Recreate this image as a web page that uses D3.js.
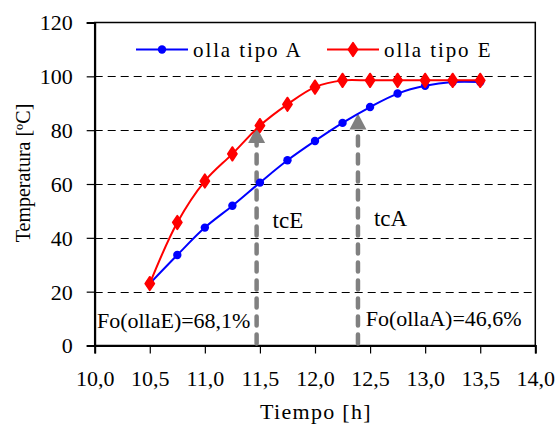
<!DOCTYPE html>
<html>
<head>
<meta charset="utf-8">
<script src="https://cdn.jsdelivr.net/npm/d3@7"></script>
<style>
  html, body { margin: 0; padding: 0; background: #fff; }
  svg { display: block; font-family: "Liberation Serif", "Times New Roman", serif; }
</style>
</head>
<body>
<svg id="chart" width="560" height="428"></svg>
<script>
// ---- data ----
const times = [10.5, 10.75, 11.0, 11.25, 11.5, 11.75, 12.0, 12.25, 12.5, 12.75, 13.0, 13.25, 13.5];
const tempA = [23, 33.6, 43.8, 51.9, 60.5, 68.8, 76.0, 82.7, 88.6, 93.6, 96.5, 97.9, 97.9];
const tempE = [23, 45.7, 61.1, 71.2, 81.7, 89.6, 96.0, 98.5, 98.5, 98.5, 98.5, 98.5, 98.5];
const seriesNames = ["olla tipo A", "olla tipo E"];
const xTicks = [10.0, 10.5, 11.0, 11.5, 12.0, 12.5, 13.0, 13.5, 14.0];
const yTicks = [0, 20, 40, 60, 80, 100, 120];
const gridValues = [20, 40, 60, 80, 100];
const markerTimes = [11.47, 12.39];
const markerTips = [81.2, 86.2];
const markerLabels = ["tcE", "tcA"];
const foLabels = ["Fo(ollaE)=68,1%", "Fo(ollaA)=46,6%"];
const foTimes = [10.02, 12.46];
const foTemps = [6.6, 7.3];
const labelTemps = [43.5, 44.5];

const svg = d3.select("#chart");
const x = d3.scaleLinear().domain([10, 14]).range([94.7, 535.3]);
const y = d3.scaleLinear().domain([0, 120]).range([345.5, 22.5]);

// gridlines
svg.append("g").selectAll("line").data(gridValues).join("line")
  .attr("x1", x(10)).attr("x2", x(14))
  .attr("y1", d => Math.round(y(d)) + 0.5).attr("y2", d => Math.round(y(d)) + 0.5)
  .attr("stroke", "#000").attr("stroke-width", 1)
  .attr("stroke-dasharray", "8,5");

// frame
svg.append("rect")
  .attr("x", x(10)).attr("y", y(120))
  .attr("width", x(14) - x(10)).attr("height", y(0) - y(120))
  .attr("fill", "none").attr("stroke", "#000").attr("stroke-width", 1.5);

// axes
const fmtX = d => d3.format(".1f")(d).replace(".", ",");
const xAxis = svg.append("g").attr("transform", `translate(0,${y(0)})`)
  .call(d3.axisBottom(x).tickValues(xTicks).tickFormat(fmtX).tickSize(8).tickPadding(17));
const yAxis = svg.append("g").attr("transform", `translate(${x(10)},0)`)
  .call(d3.axisLeft(y).tickValues(yTicks).tickFormat(d3.format("d")).tickSize(8).tickPadding(14));
[xAxis, yAxis].forEach(a => {
  a.attr("font-family", null).attr("font-size", null);
  a.select(".domain").attr("stroke", "#000").attr("stroke-width", 2);
  a.selectAll(".tick line").attr("stroke", "#000").attr("stroke-width", 1.2);
  a.selectAll(".tick text").attr("fill", "#000")
    .style("font-family", "'Liberation Serif', serif").style("font-size", "22px");
});
yAxis.selectAll(".tick text").attr("dy", "0.34em");

// axis titles
svg.append("text").attr("x", 316).attr("y", 419).attr("text-anchor", "middle")
  .style("font-size", "22px").style("letter-spacing", "1.3px").text("Tiempo [h]");
svg.append("text").attr("transform", "translate(30,173) rotate(-90)")
  .attr("text-anchor", "middle")
  .style("font-size", "20px").text("Temperatura [ºC]");

// vertical marker arrows
markerTimes.forEach((t, i) => {
  const tipY = y(markerTips[i]);
  svg.append("line")
    .attr("x1", x(t)).attr("x2", x(t))
    .attr("y1", y(0) - 2).attr("y2", tipY + 16)
    .attr("stroke", "#808080").attr("stroke-width", 4.5)
    .attr("stroke-linecap", "round").attr("stroke-dasharray", "9,9");
  svg.append("path")
    .attr("d", `M${x(t)},${tipY} L${x(t) + 8.5},${tipY + 16} L${x(t) - 8.5},${tipY + 16} Z`)
    .attr("fill", "#808080");
});

// lines
const line = d3.line().x(d => x(d[0])).y(d => y(d[1])).curve(d3.curveCatmullRom.alpha(0.5));
const dataA = times.map((t, i) => [t, tempA[i]]);
const dataE = times.map((t, i) => [t, tempE[i]]);

svg.append("path").datum(dataA).attr("d", line)
  .attr("fill", "none").attr("stroke", "#0000ff").attr("stroke-width", 2);
svg.append("g").selectAll("circle").data(dataA).join("circle")
  .attr("cx", d => x(d[0])).attr("cy", d => y(d[1])).attr("r", 4.2).attr("fill", "#0000ff");

const diamond = d3.symbol().type(d3.symbolDiamond).size(55);
svg.append("path").datum(dataE).attr("d", line)
  .attr("fill", "none").attr("stroke", "#ff0000").attr("stroke-width", 2);
svg.append("g").selectAll("path").data(dataE).join("path")
  .attr("d", diamond)
  .attr("transform", d => `translate(${x(d[0])},${y(d[1])}) scale(1.15,1)`)
  .attr("fill", "#ff0000").attr("stroke", "#ff0000").attr("stroke-width", 1.5)
  .attr("stroke-linejoin", "round");

// marker labels
markerLabels.forEach((lab, i) => {
  svg.append("text").attr("x", x(markerTimes[i]) + 16).attr("y", y(labelTemps[i]))
    .style("font-size", "23px").text(lab);
});
foLabels.forEach((lab, i) => {
  svg.append("text").attr("x", x(foTimes[i])).attr("y", y(foTemps[i]))
    .style("font-size", "22px").text(lab);
});

// legend
const legend = svg.append("g");
const legX = [136, 327];
const legColors = ["#0000ff", "#ff0000"];
const legY = 49.5;
seriesNames.forEach((name, i) => {
  legend.append("line").attr("x1", legX[i]).attr("x2", legX[i] + 52)
    .attr("y1", legY).attr("y2", legY).attr("stroke", legColors[i]).attr("stroke-width", 2);
  if (i === 0) {
    legend.append("circle").attr("cx", legX[i] + 26).attr("cy", legY).attr("r", 4.2).attr("fill", legColors[i]);
  } else {
    legend.append("path").attr("d", diamond)
      .attr("transform", `translate(${legX[i] + 26},${legY}) scale(1.15,1)`)
      .attr("fill", legColors[i]).attr("stroke", legColors[i]).attr("stroke-width", 1.5)
      .attr("stroke-linejoin", "round");
  }
  legend.append("text").attr("x", legX[i] + 57).attr("y", legY + 7.5)
    .style("font-size", "21px").style("letter-spacing", "1.9px").text(name);
});
</script>
</body>
</html>
